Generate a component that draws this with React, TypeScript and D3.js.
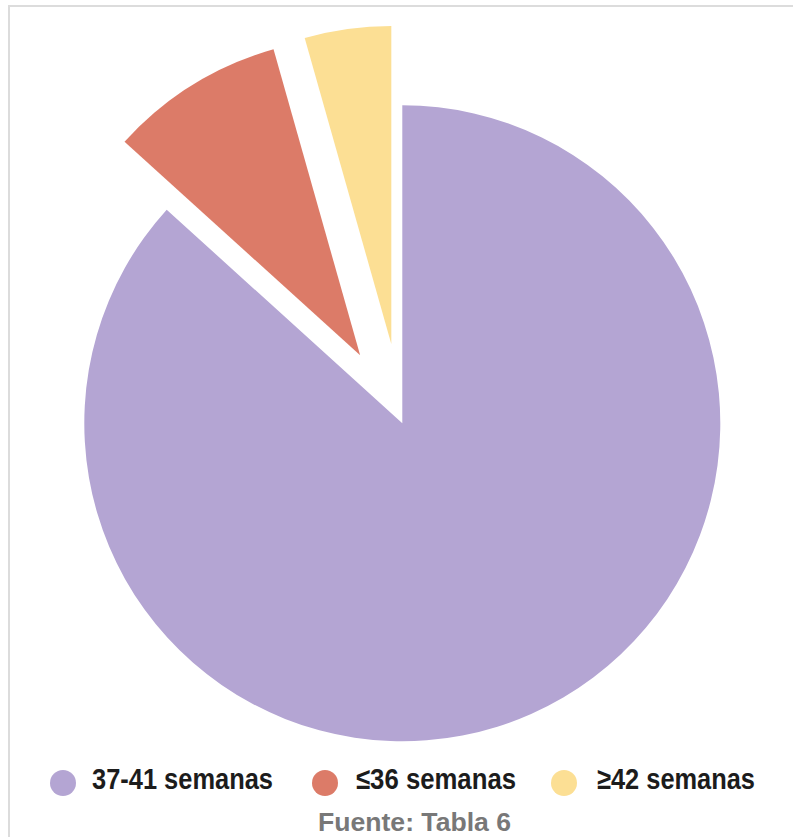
import React from "react";
import * as d3 from "d3";

const categories = ["37-41 semanas", "≤36 semanas", "≥42 semanas"];
const values = [86.72, 8.89, 4.39];
const colors = ["#b4a5d3", "#dc7b68", "#fcdf94"];
const exploded = [0, 80, 80];
const sourceText = "Fuente: Tabla 6";

const W = 793;
const H = 837;
const cx = 402.3;
const cy = 423.3;
const R = 318;

export default function App() {
  const pie = d3.pie<number>().sort(null).startAngle(0).endAngle(2 * Math.PI);
  const arcs = pie(values);
  const arcGen = d3.arc<d3.PieArcDatum<number>>().innerRadius(0).outerRadius(R);

  const legendX = [63, 325, 564];
  const legendTextX = [92, 356, 597];
  const legendTextW = [181, 160, 158];

  return (
    <svg
      width={W}
      height={H}
      style={{ position: "absolute", left: 0, top: 0, background: "#fff" }}
    >
      <rect x={9} y={6} width={W + 10} height={H + 10} fill="#fff" stroke="#dcdcdc" strokeWidth={2} />
      <g transform={`translate(${cx},${cy})`}>
        {arcs.map((a, i) => {
          const mid = (a.startAngle + a.endAngle) / 2;
          const dx = Math.sin(mid) * exploded[i];
          const dy = -Math.cos(mid) * exploded[i];
          return (
            <path
              key={i}
              d={arcGen(a) || ""}
              fill={colors[i]}
              transform={`translate(${dx},${dy})`}
            />
          );
        })}
      </g>
      <g fontFamily="'Liberation Sans', Arial, sans-serif" fontWeight="bold">
        {categories.map((c, i) => (
          <g key={c}>
            <circle cx={legendX[i]} cy={783} r={13} fill={colors[i]} />
            <text
              x={legendTextX[i]}
              y={789}
              fontSize={30}
              fill="#1c1c1c"
              textLength={legendTextW[i]}
              lengthAdjust="spacingAndGlyphs"
            >
              {c}
            </text>
          </g>
        ))}
        <text
          x={318}
          y={831}
          fontSize={26}
          fill="#787878"
          textLength={193}
          lengthAdjust="spacingAndGlyphs"
        >
          {sourceText}
        </text>
      </g>
    </svg>
  );
}
